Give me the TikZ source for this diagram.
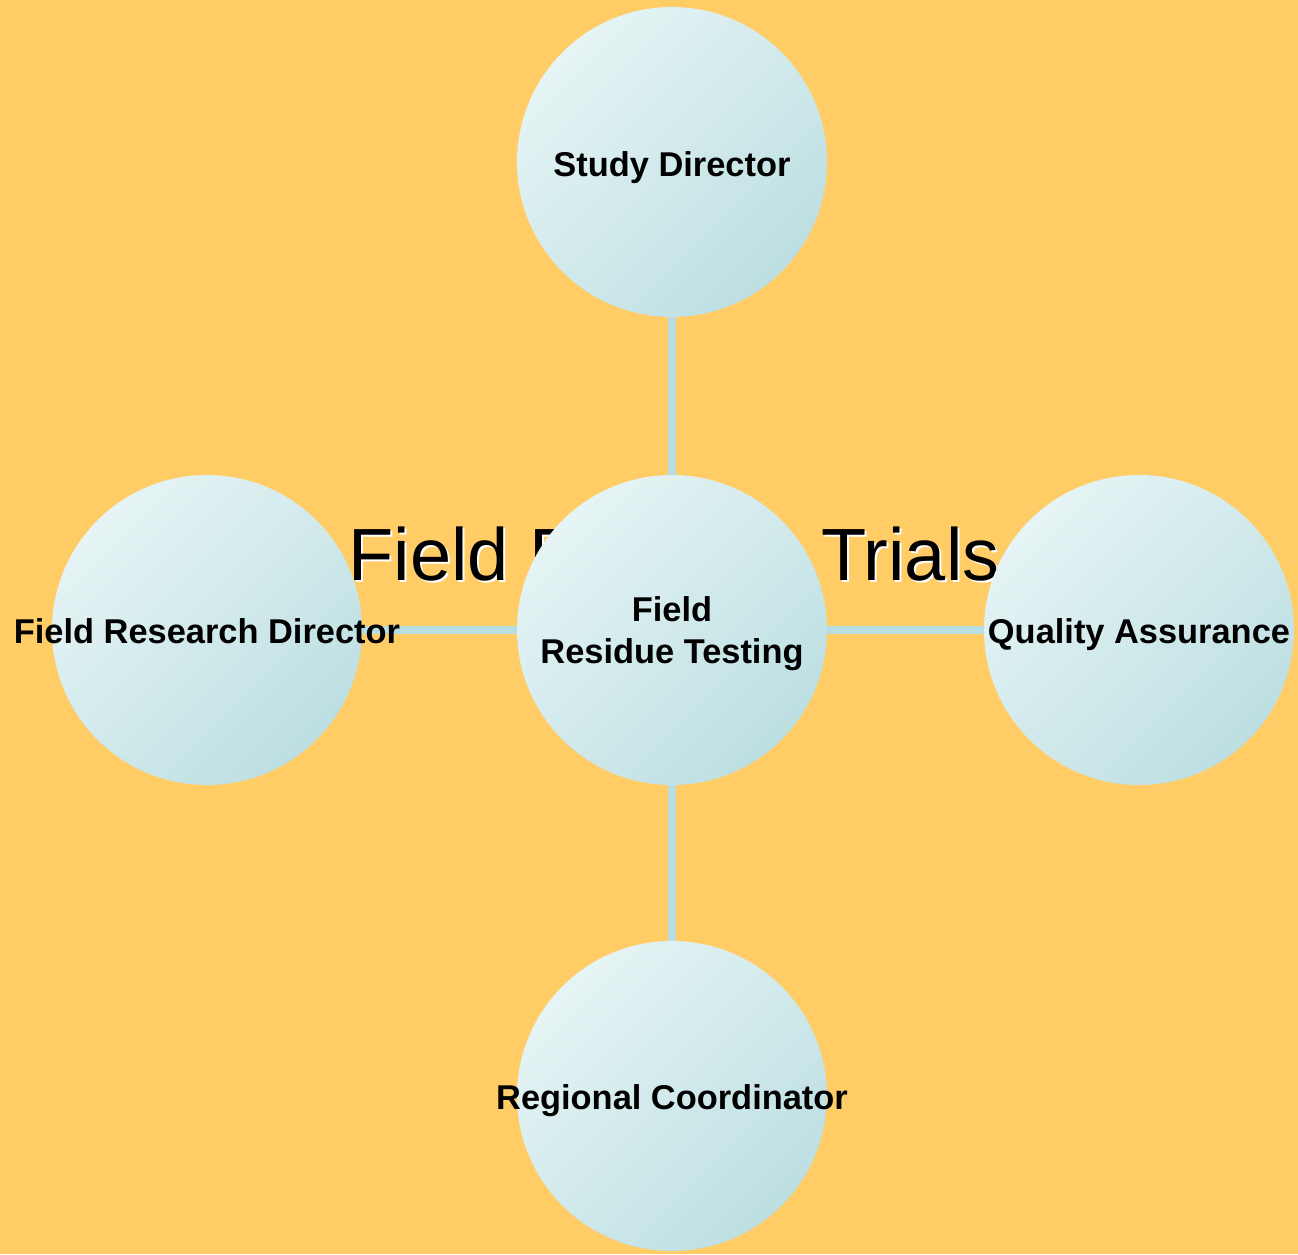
\documentclass[tikz,border=0pt]{standalone}
\usepackage{fontspec}
\setmainfont{Liberation Sans}
\pgfdeclarelayer{paperlayer}
\pgfdeclarelayer{links}
\pgfsetlayers{paperlayer,links,main}
\definecolor{paper}{HTML}{FFCC66}
\definecolor{nodelight}{HTML}{E6F4F5}
\definecolor{nodedark}{HTML}{BDDFE2}
\definecolor{linkblue}{HTML}{B7DEE2}
\begin{document}
\begin{tikzpicture}[x=1pt,y=-1pt,
  role/.style={circle, minimum size=310pt, inner sep=0pt, draw=none,
    top color=nodelight, bottom color=nodedark, shading angle=45},
  rolelabel/.style={font=\fontsize{34.4}{42}\selectfont\bfseries,
    align=center, inner sep=0pt, text=black, text height=24.6pt, text depth=0pt},
  hublabel/.style={font=\fontsize{34.4}{42}\selectfont\bfseries,
    align=center, inner sep=0pt, text=black},
  titletext/.style={font=\fontsize{74}{80}\selectfont, anchor=base, inner sep=0pt},
  link/.style={line width=8pt, draw=linkblue}]
  \begin{pgfonlayer}{paperlayer}
    \fill[paper] (0,0) rectangle (1298,1254);
  \end{pgfonlayer}
  \useasboundingbox (0,0) rectangle (1298,1254);

  % left role, drawn beneath the title
  \node[role] (frd) at (207,630) {};
  \node[rolelabel] (frdtext) at ([yshift=-1pt]frd.center) {Field Research Director};

  % title with a white drop shadow
  \node[titletext, text=white] (titleshadow) at (676,582) {Field Residue Trials};
  \node[titletext, text=black] (title) at (674,580) {Field Residue Trials};

  % hub
  \node[role] (hub) at (672,630) {};
  \node[hublabel] (hubtext) at ([yshift=-4pt]hub.center) {Field\\Residue Testing};

  % remaining roles
  \node[role] (qa) at (1139,630) {};
  \node[rolelabel] (qatext) at ([yshift=-1pt]qa.center) {Quality Assurance};
  \node[role] (sd) at (672,162) {};
  \node[rolelabel] (sdtext) at ([yshift=-2pt]sd.center) {Study Director};
  \node[role] (rc) at (672,1096) {};
  \node[rolelabel] (rctext) at ([yshift=-1pt]rc.center) {Regional Coordinator};

  % spokes from the hub
  \begin{pgfonlayer}{links}
    \draw[link] (hub.center) -- (sd.center);
    \draw[link] (hub.center) -- (frd.center);
    \draw[link] (hub.center) -- (qa.center);
    \draw[link] (hub.center) -- (rc.center);
  \end{pgfonlayer}
\end{tikzpicture}
\end{document}
